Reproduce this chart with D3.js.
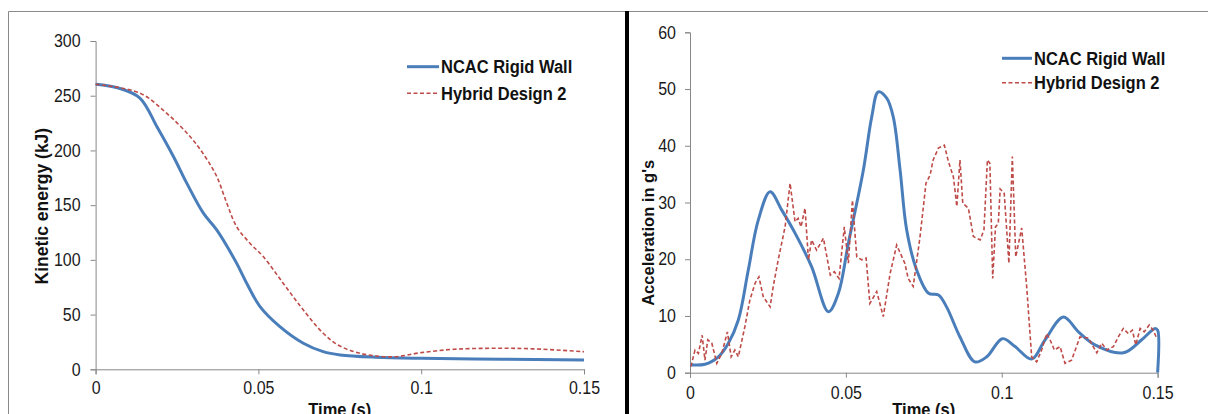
<!DOCTYPE html>
<html>
<head>
<meta charset="utf-8">
<script src="https://cdn.jsdelivr.net/npm/d3@7"></script>
<style>
  body { margin: 0; background: #fff; }
  svg { display: block; font-family: "Liberation Sans", Arial, sans-serif; }
  svg text { transform-box: fill-box; transform-origin: center; }
  .axis path, .axis line { stroke: #888; }
  .axis text { font-size: 16px; fill: #1a1a1a; transform: scaleY(1.12); }
  .tall { transform: scaleY(1.1); }
</style>
</head>
<body>
<div id="container"></div>
<script>
/* CONSTANTS AND GLOBALS */
const width = 1208;
const height = 414;

const xTicks = [0, 0.05, 0.1, 0.15];
const keTicks = [0, 50, 100, 150, 200, 250, 300];
const accTicks = [0, 10, 20, 30, 40, 50, 60];
const seriesNames = ["NCAC Rigid Wall", "Hybrid Design 2"];

// kinetic energy (kJ) - NCAC rigid wall
const keRigidT = [0, 0.007, 0.0136, 0.0188, 0.0239, 0.028, 0.0331, 0.0372, 0.0433, 0.0464, 0.0505, 0.0566, 0.0638, 0.0699, 0.0751, 0.086, 0.1, 0.125, 0.15];
const keRigidV = [260.5, 257, 247.9, 221.9, 194.5, 170.1, 142.7, 127.4, 97, 78.7, 57.3, 39, 23.8, 16.1, 13.1, 11, 10, 9.2, 8.5];

// kinetic energy (kJ) - hybrid design 2
const keHybridT = [0, 0.0136, 0.0218, 0.029, 0.0336, 0.0372, 0.0403, 0.0433, 0.0474, 0.0515, 0.0576, 0.0638, 0.0699, 0.0745, 0.08, 0.086, 0.092, 0.1, 0.1102, 0.1224, 0.1345, 0.15];
const keHybridV = [260.5, 252.4, 234, 212.7, 194.5, 176.2, 151.8, 130.4, 115.2, 103, 78.7, 54.2, 32.9, 22.2, 15.5, 12.2, 11.5, 15.2, 18.3, 19.2, 18.7, 16.1];

// acceleration (g's) - NCAC rigid wall
const accRigidT = [0, 0.0048, 0.0091, 0.0123, 0.0155, 0.0187, 0.0219, 0.0257, 0.0294, 0.0337, 0.039, 0.0444, 0.0476, 0.0508, 0.0556, 0.0583, 0.0604, 0.0631, 0.0652, 0.0674, 0.0695, 0.0727, 0.0765, 0.0797, 0.0823, 0.0866, 0.0914, 0.0952, 0.1002, 0.1043, 0.1096, 0.1139, 0.1198, 0.1246, 0.1299, 0.139, 0.1449, 0.1492, 0.15, 0.15];
const accRigidV = [1.4, 1.5, 2.8, 5.2, 9.3, 18.1, 26.9, 31.9, 28.7, 24.6, 18.7, 10.75, 14, 22.8, 35.7, 45.1, 49.5, 48.4, 45.1, 35.7, 25.2, 18.1, 14, 13.7, 11.6, 6.3, 1.9, 2.8, 6, 4.6, 2.4, 5.8, 9.8, 7.2, 4.9, 3.5, 5.8, 7.8, 7.5, 0];

// acceleration (g's) - hybrid design 2
const accHybridT = [0.0003, 0.0016, 0.0027, 0.0039, 0.0048, 0.0057, 0.007, 0.0086, 0.0102, 0.012, 0.0132, 0.0144, 0.0155, 0.0176, 0.0192, 0.0209, 0.0221, 0.0235, 0.0257, 0.0267, 0.0283, 0.0305, 0.0321, 0.0337, 0.0347, 0.0356, 0.0369, 0.038, 0.039, 0.0406, 0.0428, 0.045, 0.0463, 0.0478, 0.0495, 0.0508, 0.0521, 0.0535, 0.0551, 0.0565, 0.0577, 0.0599, 0.062, 0.0642, 0.0663, 0.0689, 0.07, 0.0716, 0.0738, 0.0757, 0.077, 0.078, 0.0797, 0.0816, 0.0829, 0.0845, 0.0856, 0.0866, 0.0875, 0.0893, 0.0909, 0.0931, 0.0943, 0.0954, 0.0962, 0.0971, 0.098, 0.0989, 0.0995, 0.1008, 0.1023, 0.1034, 0.1045, 0.1064, 0.108, 0.1096, 0.1112, 0.1128, 0.1144, 0.1155, 0.1169, 0.1187, 0.1203, 0.1224, 0.1251, 0.1278, 0.1305, 0.1321, 0.1337, 0.1358, 0.1374, 0.139, 0.1406, 0.1419, 0.143, 0.1444, 0.1457, 0.1473, 0.1486, 0.1497];
const accHybridV = [1.1, 4, 3.4, 6.6, 2.2, 5.8, 5.2, 1.65, 3.4, 7.2, 2.8, 4, 2.8, 8.1, 12.8, 15.8, 16.9, 13.4, 11.6, 15.2, 19.9, 25.7, 33.4, 26.6, 27.2, 25.7, 29, 19.9, 23.4, 21.6, 23.7, 17.2, 17.8, 16.6, 25.7, 19.3, 30.4, 20.4, 19.9, 20.2, 12.2, 14.3, 9.9, 17.5, 22.5, 19.3, 16.6, 15.2, 24, 33.4, 34.8, 37.5, 39.6, 40.1, 37.2, 34.5, 29.3, 37.5, 29.9, 29, 24, 23.4, 25.2, 37.5, 36.9, 16.6, 25.7, 26.3, 32.4, 31.6, 19.3, 38.1, 20.4, 25.5, 15.2, 2.8, 1.9, 4, 6.9, 5.8, 4, 4.6, 1.65, 2.2, 6.3, 6.1, 3.5, 5.2, 4, 4.6, 6.3, 7.8, 6.9, 7.5, 4.9, 7.8, 7.2, 8.4, 7.5, 6.1];

const blue = "#4a7ebb";
const red = "#be4b48";

const svg = d3.select("#container")
  .append("svg")
  .attr("width", width)
  .attr("height", height);

// FRAME AND DIVIDER
svg.append("path")
  .attr("d", "M8.5,414V11.5H1208")
  .attr("fill", "none")
  .attr("stroke", "#8a8a8a");

svg.append("line")
  .attr("x1", 627).attr("x2", 627)
  .attr("y1", 11).attr("y2", height)
  .attr("stroke", "#000")
  .attr("stroke-width", 4);

function zip(ts, vs) {
  return ts.map((t, i) => ({ t: t, v: vs[i] }));
}

function drawPanel(opt) {
  const xScale = d3.scaleLinear().domain([0, 0.15]).range([opt.left, opt.right]);
  const yScale = d3.scaleLinear().domain([0, opt.yMax]).range([opt.bottom, opt.top]);

  svg.append("g")
    .attr("class", "axis")
    .attr("transform", `translate(0,${opt.bottom})`)
    .call(d3.axisBottom(xScale).tickValues(xTicks).tickFormat(d => String(d))
      .tickSizeOuter(0).tickSize(5).tickPadding(opt.xPad));

  svg.append("g")
    .attr("class", "axis")
    .attr("transform", `translate(${opt.left},0)`)
    .call(d3.axisLeft(yScale).tickValues(opt.yTicks).tickFormat(d3.format("d"))
      .tickSizeOuter(0).tickSize(5).tickPadding(opt.yPad));

  svg.selectAll(".axis .domain").attr("stroke", "#888");

  // LINES
  const lineSmooth = d3.line()
    .x(d => xScale(d.t)).y(d => yScale(d.v))
    .curve(d3.curveCatmullRom.alpha(0.5));
  const lineRough = d3.line()
    .x(d => xScale(d.t)).y(d => yScale(d.v));

  svg.append("path")
    .datum(zip(opt.blueT, opt.blueV))
    .attr("d", lineSmooth)
    .attr("fill", "none")
    .attr("stroke", blue)
    .attr("stroke-width", 3);

  svg.append("path")
    .datum(zip(opt.redT, opt.redV))
    .attr("d", opt.redSmooth ? lineSmooth : lineRough)
    .attr("fill", "none")
    .attr("stroke", red)
    .attr("stroke-width", 1.6)
    .attr("stroke-dasharray", "4,2.5");

  // LEGEND
  const lg = svg.append("g");
  seriesNames.forEach((name, i) => {
    const y = opt.legY + i * opt.legStep;
    lg.append("line")
      .attr("x1", opt.legX).attr("x2", opt.legX + opt.legLen)
      .attr("y1", y).attr("y2", y)
      .attr("stroke", i === 0 ? blue : red)
      .attr("stroke-width", i === 0 ? 3 : 1.5)
      .attr("stroke-dasharray", i === 0 ? null : "4,2.5");
    lg.append("text")
      .attr("class", "tall")
      .attr("x", opt.legX + opt.legLen + 2)
      .attr("y", y + 6)
      .style("font-size", "16.5px")
      .style("font-weight", "bold")
      .attr("fill", "#111")
      .text(name);
  });

  // AXIS LABELS
  svg.append("text")
    .attr("transform", `translate(${opt.yLabX},${opt.yLabY}) rotate(-90)`)
    .attr("text-anchor", "middle")
    .attr("dy", "0.35em")
    .style("font-size", opt.yLabSize)
    .style("font-weight", "bold")
    .attr("fill", "#111")
    .text(opt.yLabel);

  svg.append("text")
    .attr("class", "tall")
    .attr("x", (opt.left + opt.right) / 2)
    .attr("y", 415)
    .attr("text-anchor", "middle")
    .style("font-size", "16.5px")
    .style("font-weight", "bold")
    .attr("fill", "#111")
    .text("Time (s)");
}

drawPanel({
  left: 95.6, right: 584, top: 41, bottom: 369.3,
  yMax: 300, yTicks: keTicks, xPad: 8, yPad: 10,
  blueT: keRigidT, blueV: keRigidV, redT: keHybridT, redV: keHybridV, redSmooth: true,
  legX: 407, legY: 66.7, legStep: 26.6, legLen: 32,
  yLabel: "Kinetic energy (kJ)", yLabX: 41.5, yLabY: 206, yLabSize: "17.5px"
});

drawPanel({
  left: 690, right: 1157.6, top: 32.3, bottom: 372.7,
  yMax: 60, yTicks: accTicks, xPad: 9, yPad: 9,
  blueT: accRigidT, blueV: accRigidV, redT: accHybridT, redV: accHybridV, redSmooth: false,
  legX: 1002, legY: 58.3, legStep: 24.4, legLen: 30,
  yLabel: "Acceleration in g's", yLabX: 648, yLabY: 233, yLabSize: "16.5px"
});
</script>
</body>
</html>
